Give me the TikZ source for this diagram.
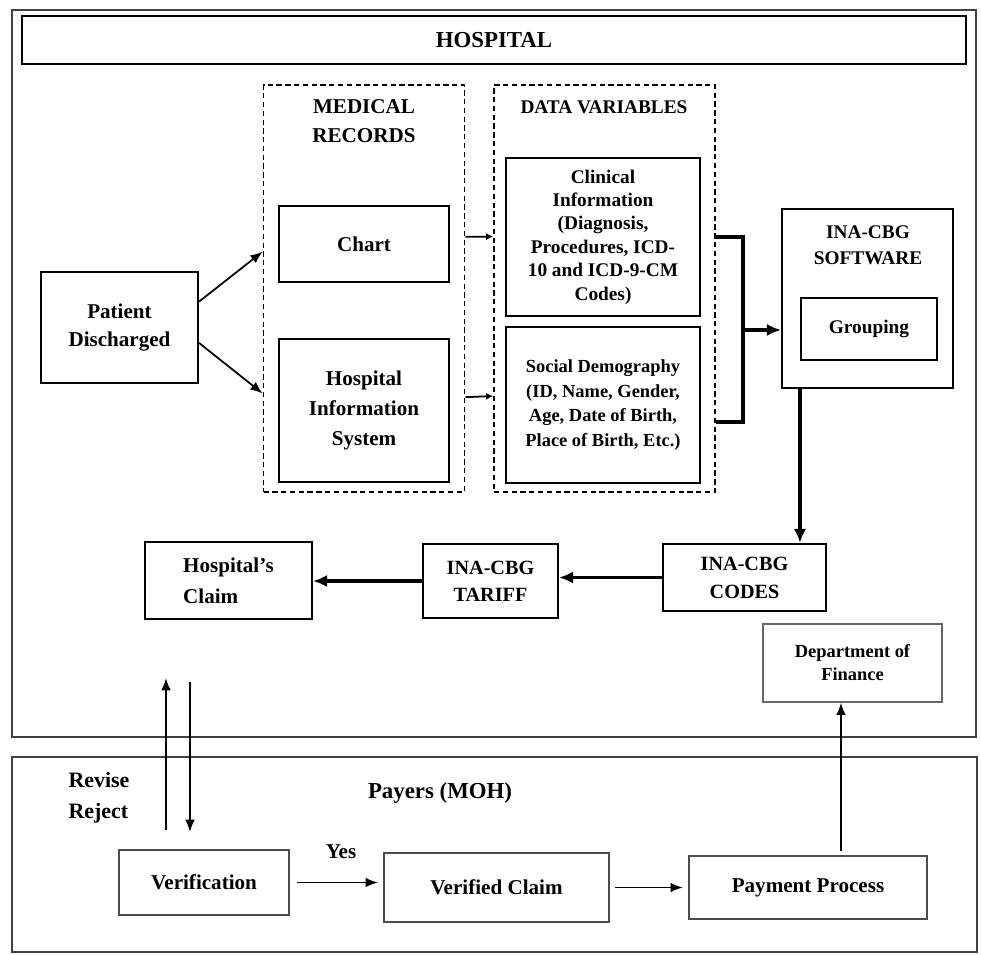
\documentclass[tikz,border=0pt]{standalone}
\usepackage{fontspec}
\setmainfont{Liberation Serif}
\usepackage{tikz}
\usetikzlibrary{arrows.meta}

\newcommand{\fsz}[2]{\fontsize{#1}{#2}\selectfont}

\tikzset{
  box/.style={draw, line width=1.2pt, align=center, inner sep=0pt, font=\bfseries},
  lowbox/.style={box, draw=black!70, line width=1pt, font=\bfseries\fsz{12}{14}},
  dbox/.style={draw, line width=1pt, dash pattern=on 3pt off 2pt, inner sep=0pt},
  outerbox/.style={draw=black!75, line width=1.6pt},
  fatarrow/.style={line width=2.2pt, -{Latex[length=8pt,width=7pt]}},
  slimarrow/.style={line width=1pt, -{Latex[length=7pt,width=5.5pt]}},
  shortarrow/.style={line width=1pt, -{Latex[length=4pt,width=4pt]}},
}

\begin{document}
\begin{tikzpicture}[x=0.02cm, y=-0.02cm]
\useasboundingbox (0,0) rectangle (981,955);

% frames
\draw[outerbox] (12,10) rectangle (976,737);
\draw[outerbox] (12,757) rectangle (977,952);

\node (Hosp) [box, minimum width=18.88cm, minimum height=0.96cm, font=\bfseries\fsz{13}{15}] at (494,40) {HOSPITAL};

% medical records and data variables
\node (MR) [dbox, minimum width=4.02cm, minimum height=8.14cm] at (364,288.5) {};
\node (MRtitle) [font=\bfseries\fsz{12}{16.5}, align=center] at (364,121.5) {MEDICAL\\RECORDS};
\node (DV) [dbox, minimum width=4.42cm, minimum height=8.14cm] at (604.5,288.5) {};
\node (DVtitle) [font=\bfseries\fsz{11}{13}] at (604,107) {DATA VARIABLES};

\node (Chart) [box, minimum width=3.4cm, minimum height=1.52cm, font=\bfseries\fsz{12}{16}] at (364,244) {Chart};
\node (HIS) [box, minimum width=3.4cm, minimum height=2.86cm, font=\bfseries\fsz{12}{17}] at (364,410.5) {Hospital\\Information\\System};
\node (Clin) [box, minimum width=3.88cm, minimum height=3.16cm, font=\bfseries\fsz{11}{13.3}] at (603,237) {Clinical\\Information\\(Diagnosis,\\Procedures, ICD-\\10 and ICD-9-CM\\Codes)};
\node (Soc) [box, minimum width=3.88cm, minimum height=3.12cm, font=\bfseries\fsz{10.5}{14}] at (603,405) {Social Demography\\(ID, Name, Gender,\\Age, Date of Birth,\\Place of Birth, Etc.)};

\node (Pat) [box, minimum width=3.14cm, minimum height=2.22cm, font=\bfseries\fsz{12}{16}] at (119.5,327.5) {Patient\\Discharged};

% software
\node (Soft) [box, minimum width=3.42cm, minimum height=3.58cm] at (867.5,298.5) {};
\node (SoftT) [font=\bfseries\fsz{11}{14.7}, align=center] at (868,245) {INA-CBG\\SOFTWARE};
\node (Grp) [box, minimum width=2.72cm, minimum height=1.24cm, font=\bfseries\fsz{11}{13}] at (869,329) {Grouping};

% codes, tariff, claim
\node (Codes) [box, minimum width=3.26cm, minimum height=1.34cm, font=\bfseries\fsz{11.5}{16}] at (744.5,577.5) {INA-CBG\\CODES};
\node (Tariff) [box, minimum width=2.7cm, minimum height=1.48cm, font=\bfseries\fsz{11.5}{15.5}] at (490.5,581) {INA-CBG\\TARIFF};
\node (Claim) [box, minimum width=3.34cm, minimum height=1.54cm, font=\bfseries\fsz{12}{17.5}, align=left] at (228.5,580.5) {Hospital's\\Claim};
\node (Fin) [box, draw=black!60, line width=0.8pt, minimum width=3.58cm, minimum height=1.56cm, font=\bfseries\fsz{10.5}{13}] at (852.5,663) {Department of\\Finance};

% payers
\node (Payers) [font=\bfseries\fsz{13}{15}] at (440,793) {Payers (MOH)};
\node (RevRej) [font=\bfseries\fsz{12.5}{17.5}, align=left] at (99,797.5) {Revise\\Reject};
\node (Verif) [lowbox, minimum width=3.4cm, minimum height=1.3cm] at (204,882.5) {Verification};
\node (VClaim) [lowbox, minimum width=4.5cm, minimum height=1.38cm] at (496.5,887.5) {Verified Claim};
\node (Pay) [lowbox, minimum width=4.76cm, minimum height=1.26cm] at (808,887.5) {Payment Process};
\node (Yes) [font=\bfseries\fsz{12}{14}] at (341,852) {Yes};

% connectors
\draw[slimarrow] (Pat.18) -- (MR.160);
\draw[slimarrow] (Pat.-11) -- (MR.226);
\draw[shortarrow] (MR.27) -- (DV.155);
\draw[shortarrow] (MR.-47) -- (DV.224.5);

\coordinate (Jn) at (743,330);
\draw[line width=2.2pt] (Clin.east -| DV.east) -| (Jn) |- (Soc.-10 -| DV.east);
\draw[fatarrow] (Jn) -- (Jn -| Soft.west);
\draw[fatarrow] (Grp.west |- Soft.south) -- (Grp.west |- Codes.north);
\draw[fatarrow] (Codes.west) -- (Codes.west -| Tariff.east);
\draw[fatarrow] (Tariff.west) -- (Tariff.west -| Claim.east);

\coordinate (UpS) at (166,830);
\coordinate (UpE) at (166,678);
\coordinate (DnS) at (190,682);
\coordinate (DnE) at (190,832);
\draw[slimarrow] (UpS) -- (UpE);
\draw[slimarrow] (DnS) -- (DnE);

\draw[slimarrow, shorten <=4pt, shorten >=3pt] (Verif.east) -- (Verif.east -| VClaim.west);
\draw[slimarrow, shorten <=3pt, shorten >=3pt] (VClaim.east) -- (VClaim.east -| Pay.west);
\coordinate (PayTop) at (841,851);
\draw[slimarrow] (PayTop) -- (PayTop |- Fin.south);
\end{tikzpicture}
\end{document}
